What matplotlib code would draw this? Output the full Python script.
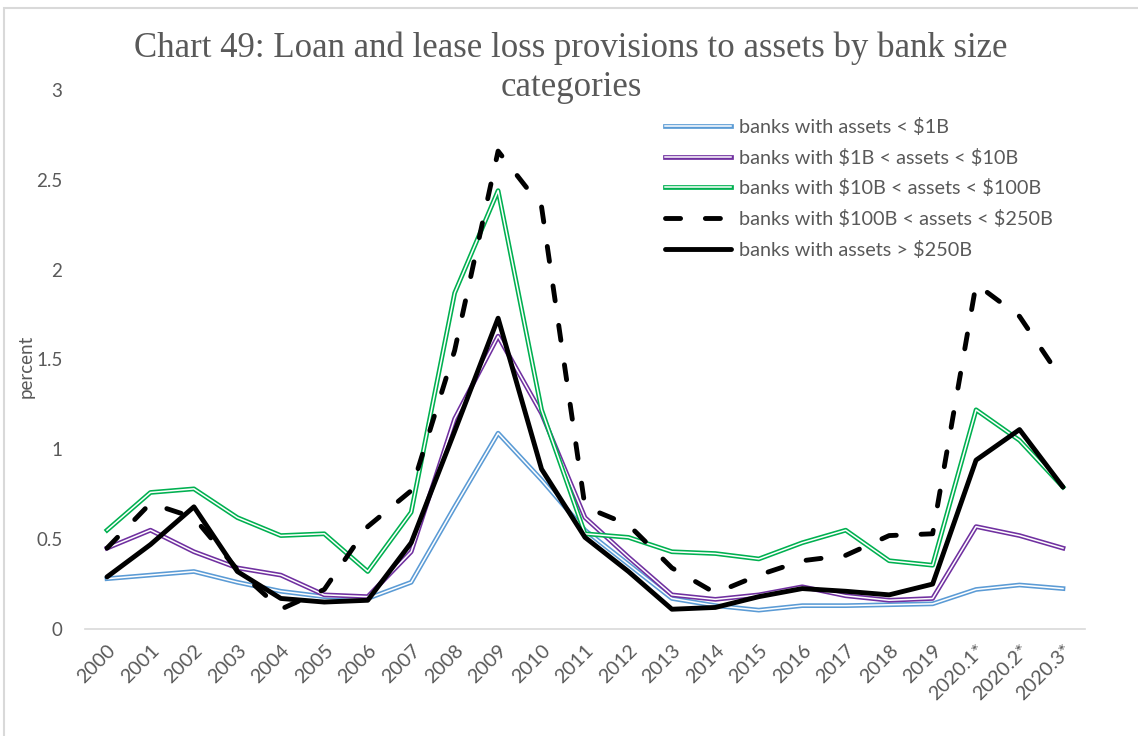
import numpy as np
import matplotlib.pyplot as plt
import matplotlib.patheffects as pe
from matplotlib.patches import Rectangle


# Data (percent)

periods = ['2000', '2001', '2002', '2003', '2004', '2005', '2006', '2007', '2008',
           '2009', '2010', '2011', '2012', '2013', '2014', '2015', '2016', '2017',
           '2018', '2019', '2020.1*', '2020.2*', '2020.3*']

under_1b = [0.28, 0.30, 0.32, 0.26, 0.21, 0.18, 0.17, 0.26, 0.68, 1.09, 0.83, 0.55,
            0.36, 0.17, 0.13, 0.105, 0.13, 0.13, 0.135, 0.14, 0.22, 0.245, 0.225]
b1_to_10b = [0.45, 0.55, 0.43, 0.34, 0.30, 0.19, 0.18, 0.43, 1.17, 1.63, 1.20, 0.62,
             0.40, 0.19, 0.165, 0.19, 0.235, 0.185, 0.16, 0.17, 0.57, 0.52, 0.45]
b10_to_100b = [0.55, 0.76, 0.78, 0.62, 0.52, 0.53, 0.32, 0.65, 1.87, 2.44, 1.22, 0.53,
               0.51, 0.43, 0.42, 0.39, 0.48, 0.55, 0.38, 0.355, 1.22, 1.05, 0.79]
b100_to_250b = [0.45, 0.70, 0.62, 0.33, 0.11, 0.22, 0.57, 0.77, 1.55, 2.66, 2.35, 0.68,
                0.58, 0.34, 0.20, 0.30, 0.38, 0.41, 0.52, 0.53, 1.92, 1.74, 1.38]
over_250b = [0.29, 0.47, 0.68, 0.32, 0.17, 0.15, 0.16, 0.48, 1.10, 1.73, 0.89, 0.51,
             0.32, 0.11, 0.12, 0.18, 0.225, 0.21, 0.19, 0.25, 0.94, 1.11, 0.79]

labels = [r'banks with assets < \$1B',
          r'banks with \$1B < assets < \$10B',
          r'banks with \$10B < assets < \$100B',
          r'banks with \$100B < assets < \$250B',
          r'banks with assets > \$250B']

yticks = [0, 0.5, 1, 1.5, 2, 2.5, 3]
ytick_labels = ['0', '0.5', '1', '1.5', '2', '2.5', '3']

GREY = '#595959'
W, H = 1138, 736


def double_line(color, outer=3.4, inner=1.1):
    # excel "double" compound line: coloured stroke with a white core
    return [pe.Stroke(linewidth=outer, foreground=color),
            pe.Stroke(linewidth=inner, foreground='white')]


fig = plt.figure(figsize=(W / 100, H / 100), dpi=100)
ax = fig.add_axes([85.3 / W, 1 - 629 / H, (1084.7 - 85.3) / W, (629 - 90) / H])

x = np.arange(len(periods))

ax.plot(x, under_1b, color='#5B9BD5', lw=3.4, label=labels[0],
        solid_joinstyle='round', path_effects=double_line('#5B9BD5'))
ax.plot(x, b1_to_10b, color='#7030A0', lw=3.4, label=labels[1],
        solid_joinstyle='round', path_effects=double_line('#7030A0'))
ax.plot(x, b10_to_100b, color='#00B050', lw=3.4, label=labels[2],
        solid_joinstyle='round', path_effects=double_line('#00B050'))
ax.plot(x, b100_to_250b, color='black', lw=3.5, dashes=(3.1, 5.1),
        dash_capstyle='round', dash_joinstyle='round', label=labels[3])
ax.plot(x, over_250b, color='black', lw=3.5, solid_joinstyle='round',
        solid_capstyle='round', label=labels[4])

ax.set_xlim(-0.5, len(periods) - 0.5)
ax.set_ylim(0, 3)
ax.set_yticks(yticks)
ax.set_yticklabels(ytick_labels)
ax.set_xticks(x)
ax.set_xticklabels(periods, rotation=45, ha='right', rotation_mode='anchor')

for s in ['top', 'right', 'left']:
    ax.spines[s].set_visible(False)
ax.spines['bottom'].set_color('#D9D9D9')
ax.spines['bottom'].set_linewidth(1.2)
ax.tick_params(axis='both', length=0, labelsize=13.5, labelcolor=GREY)
ax.tick_params(axis='y', pad=16.5)
ax.tick_params(axis='x', pad=9, labelsize=14.2)
for t in ax.get_xticklabels() + ax.get_yticklabels():
    t.set_fontfamily('Lato')

fig.text(26 / W, 1 - 366 / H, 'percent', rotation=90, ha='center', va='center',
         fontsize=13.5, color=GREY, fontfamily='Lato')

fig.text(571 / W, 1 - 68 / H, 'Chart 49: Loan and lease loss provisions to assets by bank size\ncategories',
         ha='center', va='center', fontsize=25, color=GREY,
         fontfamily='Liberation Serif', linespacing=1.25)

ax.legend(loc='upper left', bbox_to_anchor=(665 / W, 1 - 118 / H),
          bbox_transform=fig.transFigure, frameon=False, borderpad=0,
          borderaxespad=0, handlelength=3.3, handletextpad=0.44,
          labelspacing=0.64, prop={'family': 'Lato', 'size': 14.3},
          labelcolor=GREY)

# light outline of the chart area
fig.patches.append(Rectangle((4 / W, -0.01), 1.1, 1 - 8 / H + 0.01,
                             transform=fig.transFigure, fill=False,
                             edgecolor='#D9D9D9', lw=1.5))

fig.savefig('out.png', dpi=100)
